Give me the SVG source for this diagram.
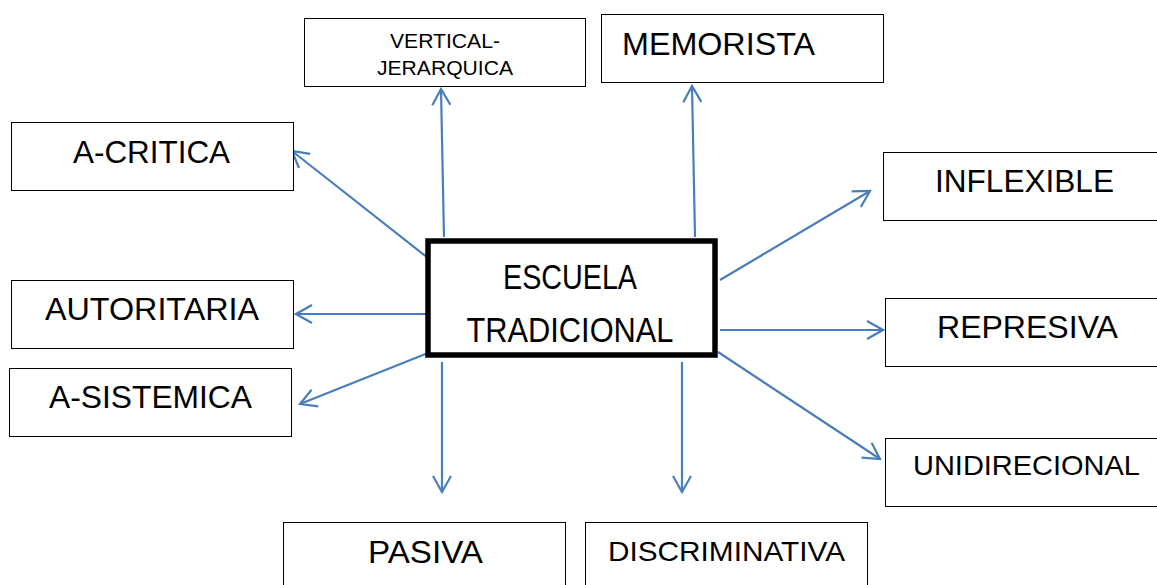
<svg xmlns="http://www.w3.org/2000/svg" width="1157" height="585" viewBox="0 0 1157 585">
<style>
.box{fill:#fff;stroke:#000;stroke-width:1}
.t{font-family:"Liberation Sans",Arial,sans-serif;fill:#000}
.c{stroke:#4a7ebb;stroke-width:2.2;fill:none}
</style>
<defs>
<marker id="a" viewBox="0 0 20 20" refX="18" refY="10" markerWidth="20" markerHeight="20" markerUnits="userSpaceOnUse" orient="auto">
<polyline points="2,1 18,10 2,19" fill="none" stroke="#4a7ebb" stroke-width="2.2"/>
</marker>
</defs>
<rect width="1157" height="585" fill="#fff"/>
<g id="connectors">
<line class="c" x1="444" y1="237" x2="441" y2="89" marker-end="url(#a)"/>
<line class="c" x1="695" y1="237" x2="692" y2="86" marker-end="url(#a)"/>
<line class="c" x1="428" y1="258" x2="292" y2="151" marker-end="url(#a)"/>
<line class="c" x1="720" y1="280" x2="870" y2="191" marker-end="url(#a)"/>
<line class="c" x1="426" y1="314" x2="296" y2="314" marker-end="url(#a)"/>
<line class="c" x1="720" y1="330" x2="883" y2="330" marker-end="url(#a)"/>
<line class="c" x1="428" y1="353" x2="300" y2="404" marker-end="url(#a)"/>
<line class="c" x1="718" y1="352" x2="880" y2="459" marker-end="url(#a)"/>
<line class="c" x1="442" y1="362" x2="442" y2="492" marker-end="url(#a)"/>
<line class="c" x1="682" y1="362" x2="682" y2="492" marker-end="url(#a)"/>
</g>
<g id="escuela">
<rect x="428" y="241" width="287" height="114" fill="#fff" stroke="#000" stroke-width="5.5"/>
<text class="t" x="570" y="289" font-size="35" text-anchor="middle" textLength="134" lengthAdjust="spacingAndGlyphs">ESCUELA</text>
<text class="t" x="570" y="342" font-size="35" text-anchor="middle" textLength="207" lengthAdjust="spacingAndGlyphs">TRADICIONAL</text>
</g>
<g id="vertical">
<rect class="box" x="304.5" y="18.5" width="281" height="68"/>
<text class="t" x="390" y="48" font-size="20.5" textLength="110" lengthAdjust="spacingAndGlyphs">VERTICAL-</text>
<text class="t" x="377" y="75" font-size="20.5" textLength="136" lengthAdjust="spacingAndGlyphs">JERARQUICA</text>
</g>
<g id="memorista">
<rect class="box" x="601.5" y="14.5" width="282" height="68"/>
<text class="t" x="622" y="55" font-size="31" textLength="193" lengthAdjust="spacingAndGlyphs">MEMORISTA</text>
</g>
<g id="acritica">
<rect class="box" x="11.5" y="122.5" width="282" height="68"/>
<text class="t" x="73" y="163" font-size="31" textLength="157" lengthAdjust="spacingAndGlyphs">A-CRITICA</text>
</g>
<g id="inflexible">
<rect class="box" x="883.5" y="152.5" width="280" height="68"/>
<text class="t" x="935" y="192" font-size="31" textLength="179" lengthAdjust="spacingAndGlyphs">INFLEXIBLE</text>
</g>
<g id="autoritaria">
<rect class="box" x="11.5" y="280.5" width="282" height="68"/>
<text class="t" x="45" y="320" font-size="31" textLength="214" lengthAdjust="spacingAndGlyphs">AUTORITARIA</text>
</g>
<g id="represiva">
<rect class="box" x="885.5" y="298.5" width="280" height="68"/>
<text class="t" x="937" y="338" font-size="31" textLength="181" lengthAdjust="spacingAndGlyphs">REPRESIVA</text>
</g>
<g id="asistemica">
<rect class="box" x="9.5" y="368.5" width="282" height="68"/>
<text class="t" x="49" y="408" font-size="31" textLength="203" lengthAdjust="spacingAndGlyphs">A-SISTEMICA</text>
</g>
<g id="unidirecional">
<rect class="box" x="885.5" y="438.5" width="280" height="68"/>
<text class="t" x="913" y="475" font-size="28.5" textLength="227" lengthAdjust="spacingAndGlyphs">UNIDIRECIONAL</text>
</g>
<g id="pasiva">
<rect class="box" x="283.5" y="522.5" width="282" height="70"/>
<text class="t" x="368" y="563" font-size="31" textLength="115" lengthAdjust="spacingAndGlyphs">PASIVA</text>
</g>
<g id="discriminativa">
<rect class="box" x="585.5" y="522.5" width="282" height="70"/>
<text class="t" x="608" y="561" font-size="28.5" textLength="237" lengthAdjust="spacingAndGlyphs">DISCRIMINATIVA</text>
</g>
</svg>
